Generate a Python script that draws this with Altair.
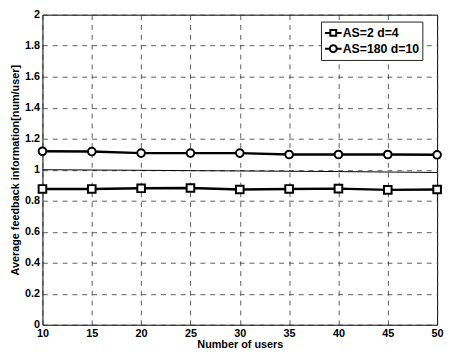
import altair as alt
import pandas as pd

users = [10, 15, 20, 25, 30, 35, 40, 45, 50]
series_names = ["AS=2 d=4", "AS=180 d=10"]
as2_values = [0.876, 0.876, 0.880, 0.882, 0.872, 0.876, 0.878, 0.870, 0.872]
as180_values = [1.119, 1.117, 1.107, 1.107, 1.107, 1.098, 1.098, 1.098, 1.096]
ref_values = [1.000, 0.998, 0.996, 0.994, 0.992, 0.990, 0.988, 0.985, 0.982]
x_ticks = [10, 15, 20, 25, 30, 35, 40, 45, 50]
y_ticks = [0, 0.2, 0.4, 0.6, 0.8, 1.0, 1.2, 1.4, 1.6, 1.8, 2.0]

rows = []
for name, vals in zip(series_names, [as2_values, as180_values]):
    for u, v in zip(users, vals):
        rows.append({"users": u, "value": v, "series": name})
df = pd.DataFrame(rows)
df_ref = pd.DataFrame({"users": users, "value": ref_values})

FONT = "Liberation Sans"

x_enc = alt.X("users:Q", scale=alt.Scale(domain=[10, 50], nice=False),
              axis=alt.Axis(values=x_ticks, title="Number of users", labelFlush=False,
                            labelOverlap=False, format="d", titlePadding=0))
y_enc = alt.Y("value:Q", scale=alt.Scale(domain=[0, 2], nice=False),
              axis=alt.Axis(values=y_ticks, title="Average feedback information[num/user]",
                            format="~g", labelFlush=False, labelOverlap=False,
                            titlePadding=4))

sq_path = "M-1.13,0H-0.4M0.4,0H1.13M-0.4,-0.4H0.4V0.4H-0.4Z"
ci_path = ("M-1.13,0H-0.47M0.47,0H1.13M-0.47,0A0.47,0.47 0 1,0 0.47,0"
           "A0.47,0.47 0 1,0 -0.47,0Z")

base = alt.Chart(df)

ref_line = alt.Chart(df_ref).mark_line(color="black", strokeWidth=1).encode(
    x=x_enc, y=y_enc)

lines = base.mark_line(color="black", strokeWidth=2.5).encode(
    x=x_enc, y=y_enc, detail="series:N")

points = base.mark_point(filled=True, fill="white", stroke="black", strokeWidth=2,
                         opacity=1, size=60).encode(
    x=x_enc, y=y_enc,
    shape=alt.Shape("series:N", scale=alt.Scale(domain=series_names, range=["square", "circle"]),
                    legend=None))

legend_layer = base.transform_filter(alt.datum.value < -1).mark_point(
    filled=False, color="black", strokeWidth=2, opacity=1, size=225
).encode(
    x=x_enc, y=y_enc,
    shape=alt.Shape("series:N", scale=alt.Scale(domain=series_names, range=[sq_path, ci_path]),
                    legend=alt.Legend(title=None, orient="none", legendX=283, legendY=7,
                                      symbolOpacity=1,
                                      symbolStrokeColor="black", symbolStrokeWidth=2,
                                      symbolSize=225, symbolOffset=1,
                                      labelFont=FONT, labelFontSize=12.5,
                                      labelFontWeight="bold", labelColor="black",
                                      strokeColor="#222222", fillColor="white",
                                      padding=3, rowPadding=0, labelOffset=1)))

chart = alt.layer(ref_line, lines, points, legend_layer).resolve_scale(
    shape="independent"
).resolve_legend(shape="independent").properties(
    width=401, height=315,
    autosize=alt.AutoSizeParams(type="none"),
    padding={"left": 35, "top": 4, "right": 7, "bottom": 30},
    background="white",
).configure_view(
    stroke="black", strokeWidth=1
).configure_axis(
    grid=True, gridColor="#333333", gridDash=[5, 5], gridWidth=0.8,
    domain=False, ticks=False, labelOverlap=False,
    labelFont=FONT, labelFontSize=11, labelFontWeight="bold", labelColor="black",
    titleFont=FONT, titleFontSize=11, titleFontWeight="bold", titleColor="black",
    labelPadding=3,
)

chart.save("out.html", embed_options={"renderer": "svg", "actions": False})
